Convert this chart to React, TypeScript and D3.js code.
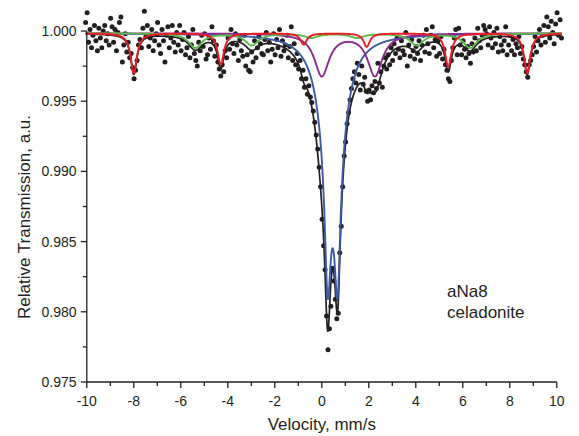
import React from 'react';
import * as d3 from 'd3';

// Measured spectrum: transmission at uniformly spaced velocity channels
const V_START = -10.05;
const V_STEP = 0.0625;
const transmission = [
  1.0006, 1.0013, 0.9992, 1.0001, 0.9988, 0.9997, 1.0004, 0.9993, 0.9986, 1.0002, 0.9995, 0.9988, 1.0000, 1.0004, 0.9993, 0.9998,
  0.9990, 1.0009, 1.0003, 0.9992, 1.0001, 0.9986, 0.9999, 1.0006, 1.0010, 0.9978, 0.9990, 0.9998, 0.9985, 0.9992, 0.9981, 0.9984,
  0.9974, 0.9966, 0.9972, 0.9979, 0.9990, 0.9994, 0.9988, 1.0002, 1.0014, 0.9996, 1.0004, 0.9989, 0.9995, 1.0001, 0.9986, 0.9993,
  0.9998, 1.0006, 0.9990, 0.9984, 1.0001, 0.9993, 0.9978, 0.9997, 1.0003, 0.9988, 0.9995, 1.0004, 0.9992, 0.9985, 0.9999, 0.9990,
  1.0004, 0.9986, 0.9994, 0.9999, 0.9983, 0.9988, 0.9996, 0.9981, 0.9990, 1.0001, 0.9984, 0.9979, 0.9975, 0.9992, 0.9986, 0.9997,
  0.9989, 0.9998, 0.9980, 0.9983, 0.9995, 0.9987, 1.0003, 0.9993, 0.9982, 0.9990, 0.9978, 0.9973, 0.9968, 0.9976, 0.9971, 0.9986,
  0.9981, 0.9995, 0.9987, 1.0001, 0.9991, 0.9984, 0.9998, 0.9990, 0.9979, 0.9994, 0.9986, 0.9982, 0.9997, 0.9975, 0.9983, 0.9972,
  0.9971, 0.9985, 0.9978, 0.9993, 0.9981, 0.9988, 0.9996, 0.9991, 0.9984, 0.9983, 0.9994, 0.9999, 0.9986, 0.9992, 0.9978, 0.9987,
  0.9998, 0.9983, 0.9994, 0.9988, 1.0001, 0.9982, 0.9993, 0.9986, 0.9990, 0.9997, 0.9981, 0.9989, 1.0003, 0.9979, 0.9991, 0.9976,
  0.9984, 0.9973, 0.9979, 0.9966, 0.9972, 0.9960, 0.9966, 0.9955, 0.9961, 0.9953, 0.9949, 0.9943, 0.9935, 0.9926, 0.9916, 0.9903,
  0.9889, 0.9866, 0.9847, 0.9830, 0.9797, 0.9773, 0.9788, 0.9804, 0.9831, 0.9822, 0.9809, 0.9795, 0.9799, 0.9842, 0.9861, 0.9889,
  0.9911, 0.9921, 0.9934, 0.9942, 0.9951, 0.9959, 0.9966, 0.9971, 0.9963, 0.9977, 0.9969, 0.9958, 0.9975, 0.9962, 0.9967, 0.9957,
  0.9950, 0.9958, 0.9951, 0.9961, 0.9956, 0.9964, 0.9959, 0.9977, 0.9963, 0.9971, 0.9960, 0.9975, 0.9981, 0.9973, 0.9983, 0.9976,
  0.9988, 0.9979, 0.9991, 0.9984, 0.9995, 0.9987, 0.9981, 0.9993, 0.9986, 0.9983, 0.9999, 0.9975, 0.9990, 0.9982, 0.9994, 0.9986,
  0.9980, 0.9989, 0.9984, 0.9993, 0.9979, 0.9990, 0.9997, 0.9985, 1.0001, 0.9991, 0.9984, 0.9997, 1.0003, 0.9988, 0.9994, 0.9982,
  0.9993, 0.9984, 0.9996, 0.9980, 0.9987, 0.9976, 0.9972, 0.9966, 0.9964, 0.9979, 0.9988, 0.9995, 1.0001, 0.9983, 1.0002, 0.9990,
  0.9983, 0.9993, 0.9987, 0.9981, 0.9989, 0.9984, 0.9977, 0.9991, 0.9985, 0.9995, 0.9986, 1.0002, 0.9993, 0.9988, 0.9997, 1.0004,
  1.0001, 0.9998, 0.9990, 1.0003, 0.9995, 0.9988, 0.9999, 0.9991, 1.0002, 0.9985, 0.9996, 0.9990, 0.9986, 0.9993, 1.0003, 0.9983,
  0.9990, 0.9997, 0.9986, 0.9994, 0.9983, 0.9991, 0.9988, 0.9996, 0.9984, 0.9989, 0.9980, 0.9976, 0.9971, 0.9967, 0.9976, 0.9979,
  0.9983, 0.9989, 0.9996, 0.9985, 0.9993, 1.0001, 0.9990, 0.9997, 1.0004, 0.9992, 1.0010, 1.0003, 0.9995, 1.0007, 0.9999, 0.9991,
  1.0005, 1.0013, 0.9997, 1.0008, 0.9995,
];

// Fitted subspectra (Lorentzian lines): centre, depth, half width (mm/s)
const baseline = 0.99984;
const blueCenters = [0.25, 0.67, 0.25, 0.67];
const blueDepths = [0.0095, 0.0095, 0.00523, 0.00523];
const blueHalfWidths = [0.15, 0.15, 0.5, 0.5];
const purpleCenters = [0.0, 2.26];
const purpleDepths = [0.003, 0.003];
const purpleHalfWidths = [0.38, 0.38];
const greenCenters = [-5.38, -2.98, -0.45, 1.5, 4.04, 6.31];
const greenDepths = [0.00103, 0.00084, 0.0003, 0.0003, 0.00084, 0.00103];
const greenHalfWidths = [0.35, 0.35, 0.35, 0.35, 0.35, 0.35];
const redCenters = [-8.0, -4.3, -0.77, 1.91, 5.38, 8.74];
const redDepths = [0.00285, 0.00224, 0.0008, 0.00096, 0.00238, 0.00285];
const redHalfWidths = [0.16, 0.16, 0.16, 0.16, 0.16, 0.16];

const xTicks = [-10, -8, -6, -4, -2, 0, 2, 4, 6, 8, 10];
const yTicks = [0.975, 0.98, 0.985, 0.99, 0.995, 1.0];

const components = [
  { key: 'blue', color: '#3c5aa6', c: blueCenters, d: blueDepths, w: blueHalfWidths },
  { key: 'purple', color: '#8a2a8b', c: purpleCenters, d: purpleDepths, w: purpleHalfWidths },
  { key: 'green', color: '#5bb947', c: greenCenters, d: greenDepths, w: greenHalfWidths },
  { key: 'red', color: '#ec1c24', c: redCenters, d: redDepths, w: redHalfWidths },
];

const absorption = (comp: any, v: number) => {
  let s = 0;
  for (let i = 0; i < comp.c.length; i++) {
    const t = (v - comp.c[i]) / comp.w[i];
    s += comp.d[i] / (1 + t * t);
  }
  return s;
};

const W = 579;
const H = 436;
const FONT = "'Liberation Sans', Arial, Helvetica, sans-serif";
const INK = '#231f20';

export default function App() {
  const x = d3.scaleLinear().domain([-10, 10]).range([86.8, 556.8]);
  const y = d3.scaleLinear().domain([0.975, 1.0]).range([382, 31]);

  const vFirst = V_START;
  const vLast = V_START + V_STEP * (transmission.length - 1);
  const grid = d3.range(vFirst, vLast + 0.0001, 0.01);

  const line = d3
    .line<[number, number]>()
    .x((p) => x(p[0]))
    .y((p) => y(p[1]));

  const compPaths = components.map((comp) => ({
    key: comp.key,
    color: comp.color,
    d: line(grid.map((v) => [v, baseline - absorption(comp, v)] as [number, number])) || '',
  }));
  const sumPath =
    line(
      grid.map(
        (v) =>
          [v, baseline - components.reduce((acc, comp) => acc + absorption(comp, v), 0)] as [number, number]
      )
    ) || '';

  const pts = transmission.map((t, i) => [V_START + i * V_STEP, t]);

  const xMinor = d3.range(-9, 10, 2);
  const yMinor = d3.range(0.9775, 1.0, 0.005);

  return (
    <svg
      width={W}
      height={H}
      style={{ position: 'absolute', left: 0, top: 0, background: '#fff' }}
      fontFamily={FONT}
    >
      <rect x={0} y={0} width={W} height={H} fill="#fff" />
      {/* data points */}
      <g fill={INK}>
        {pts.map((p, i) => (
          <circle key={i} cx={x(p[0])} cy={y(p[1])} r={2.5} />
        ))}
      </g>
      {/* fit envelope */}
      <path d={sumPath} fill="none" stroke={INK} strokeWidth={1.7} strokeLinejoin="round" />
      {compPaths.map((cp) => (
        <path key={cp.key} d={cp.d} fill="none" stroke={cp.color} strokeWidth={1.9} strokeLinejoin="round" />
      ))}

      {/* axes */}
      <g stroke={INK} strokeWidth={1.3} fill="none">
        <line x1={x(-10)} x2={x(-10)} y1={y(1.0)} y2={y(0.975)} />
        <line x1={x(-10)} x2={x(10)} y1={y(0.975)} y2={y(0.975)} />
        {xTicks.map((t) => (
          <line key={'xt' + t} x1={x(t)} x2={x(t)} y1={y(0.975)} y2={y(0.975) + 6} />
        ))}
        {xMinor.map((t) => (
          <line key={'xm' + t} x1={x(t)} x2={x(t)} y1={y(0.975)} y2={y(0.975) + 4} />
        ))}
        {yTicks.map((t) => (
          <line key={'yt' + t} x1={x(-10) - 6} x2={x(-10)} y1={y(t)} y2={y(t)} />
        ))}
        {yMinor.map((t) => (
          <line key={'ym' + t} x1={x(-10) - 4} x2={x(-10)} y1={y(t)} y2={y(t)} />
        ))}
      </g>
      <g fill={INK} fontSize={14}>
        {xTicks.map((t) => (
          <text key={'xl' + t} x={x(t)} y={406} textAnchor="middle">
            {t}
          </text>
        ))}
        {yTicks.map((t) => (
          <text key={'yl' + t} x={76.5} y={y(t)} dy="0.36em" textAnchor="end">
            {d3.format('.3f')(t)}
          </text>
        ))}
      </g>
      <text x={321.8} y={430} textAnchor="middle" fontSize={17} fill={INK}>
        Velocity, mm/s
      </text>
      <text
        transform={`translate(30,217) rotate(-90)`}
        textAnchor="middle"
        fontSize={17}
        fill={INK}
      >
        Relative Transmission, a.u.
      </text>
      <text x={447} y={297} fontSize={17} fill={INK}>
        aNa8
      </text>
      <text x={447} y={318} fontSize={17} fill={INK}>
        celadonite
      </text>
    </svg>
  );
}
